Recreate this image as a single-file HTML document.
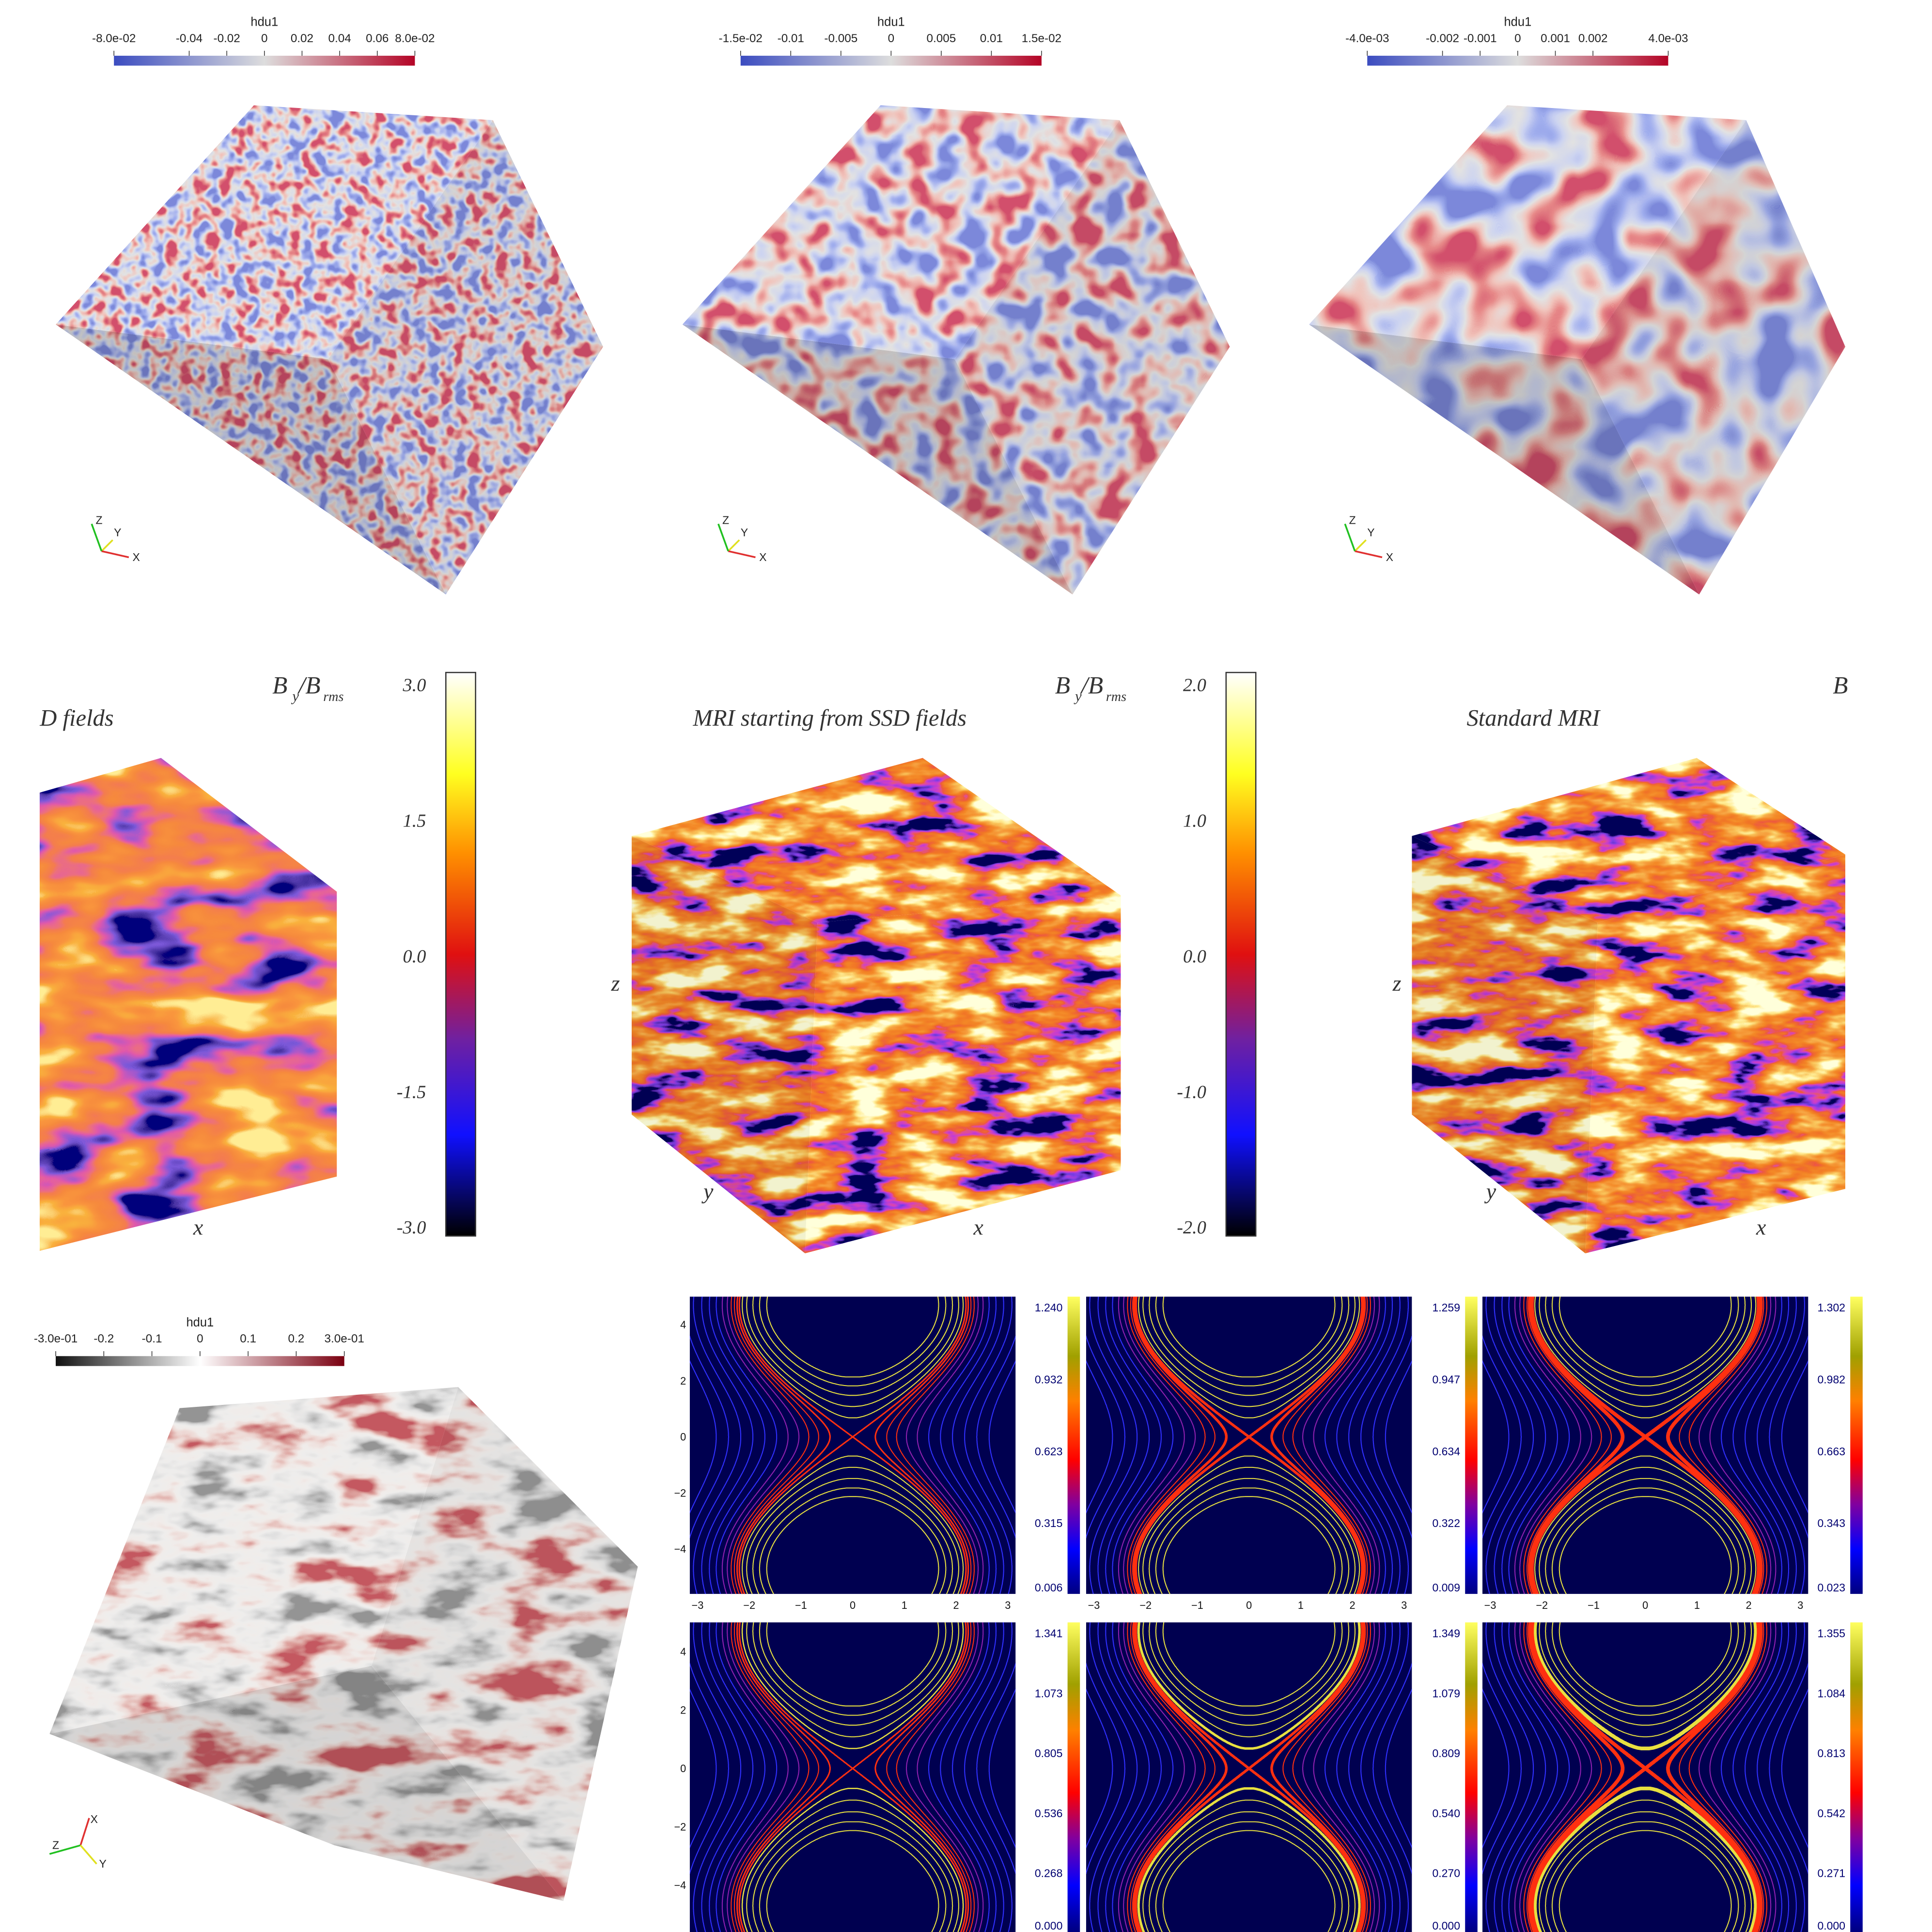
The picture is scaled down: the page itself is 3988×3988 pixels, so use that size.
<!DOCTYPE html>
<html><head><meta charset="utf-8"><style>
html,body{margin:0;padding:0;background:#fff}
svg{display:block}
text{font-family:"Liberation Sans",sans-serif}
.serif{font-family:"Liberation Serif",serif;font-style:italic}
</style></head><body>
<svg id="fig" xmlns="http://www.w3.org/2000/svg" width="3988" height="3988" viewBox="0 0 1560 1560">
<defs>
<filter id="f1" x="0" y="0" width="1" height="1"><feTurbulence type="fractalNoise" baseFrequency="0.09" numOctaves="2" seed="3"/><feColorMatrix type="matrix" values="1 0 0 0 0 1 0 0 0 0 1 0 0 0 0 0 0 0 0 1"/><feComponentTransfer><feFuncR type="linear" slope="2.5" intercept="-0.75"/><feFuncG type="linear" slope="2.5" intercept="-0.75"/><feFuncB type="linear" slope="2.5" intercept="-0.75"/></feComponentTransfer><feComponentTransfer><feFuncR type="table" tableValues=".2 .35 .6 .76 .88 .8 .65"/><feFuncG type="table" tableValues=".25 .42 .65 .76 .55 .25 .08"/><feFuncB type="table" tableValues=".7 .85 .88 .76 .5 .25 .15"/></feComponentTransfer></filter>
<filter id="f2" x="0" y="0" width="1" height="1"><feTurbulence type="fractalNoise" baseFrequency="0.045" numOctaves="2" seed="7"/><feColorMatrix type="matrix" values="1 0 0 0 0 1 0 0 0 0 1 0 0 0 0 0 0 0 0 1"/><feComponentTransfer><feFuncR type="linear" slope="2.5" intercept="-0.75"/><feFuncG type="linear" slope="2.5" intercept="-0.75"/><feFuncB type="linear" slope="2.5" intercept="-0.75"/></feComponentTransfer><feComponentTransfer><feFuncR type="table" tableValues=".2 .35 .6 .76 .88 .8 .65"/><feFuncG type="table" tableValues=".25 .42 .65 .76 .55 .25 .08"/><feFuncB type="table" tableValues=".7 .85 .88 .76 .5 .25 .15"/></feComponentTransfer></filter>
<filter id="f3" x="0" y="0" width="1" height="1"><feTurbulence type="fractalNoise" baseFrequency="0.022" numOctaves="2" seed="11"/><feColorMatrix type="matrix" values="1 0 0 0 0 1 0 0 0 0 1 0 0 0 0 0 0 0 0 1"/><feComponentTransfer><feFuncR type="linear" slope="2.7" intercept="-0.85"/><feFuncG type="linear" slope="2.7" intercept="-0.85"/><feFuncB type="linear" slope="2.7" intercept="-0.85"/></feComponentTransfer><feComponentTransfer><feFuncR type="table" tableValues=".2 .35 .6 .76 .88 .8 .65"/><feFuncG type="table" tableValues=".25 .42 .65 .76 .55 .25 .08"/><feFuncB type="table" tableValues=".7 .85 .88 .76 .5 .25 .15"/></feComponentTransfer></filter>
<filter id="fh" x="0" y="0" width="1" height="1"><feTurbulence type="fractalNoise" baseFrequency="0.018 0.05" numOctaves="4" seed="5"/><feColorMatrix type="matrix" values="1 0 0 0 0 1 0 0 0 0 1 0 0 0 0 0 0 0 0 1"/><feComponentTransfer><feFuncR type="linear" slope="2.4" intercept="-0.7"/><feFuncG type="linear" slope="2.4" intercept="-0.7"/><feFuncB type="linear" slope="2.4" intercept="-0.7"/></feComponentTransfer><feComponentTransfer><feFuncR type="table" tableValues="0 .2 .6 .85 .88 .9 .92 .95 1 1"/><feFuncG type="table" tableValues="0 .05 .05 .1 .18 .25 .35 .55 .85 1"/><feFuncB type="table" tableValues=".1 .8 .6 .05 .02 .02 .05 .1 .3 .7"/></feComponentTransfer></filter>
<filter id="fh2" x="0" y="0" width="1" height="1"><feTurbulence type="fractalNoise" baseFrequency="0.012 0.03" numOctaves="3" seed="9"/><feColorMatrix type="matrix" values="1 0 0 0 0 1 0 0 0 0 1 0 0 0 0 0 0 0 0 1"/><feComponentTransfer><feFuncR type="linear" slope="2.2" intercept="-0.6"/><feFuncG type="linear" slope="2.2" intercept="-0.6"/><feFuncB type="linear" slope="2.2" intercept="-0.6"/></feComponentTransfer><feComponentTransfer><feFuncR type="table" tableValues="0 .2 .75 .9 .92 .95 .95 1"/><feFuncG type="table" tableValues="0 .1 .1 .2 .25 .3 .45 .85"/><feFuncB type="table" tableValues=".2 .7 .4 .08 .05 .05 .05 .3"/></feComponentTransfer></filter>
<filter id="fg" x="0" y="0" width="1" height="1"><feTurbulence type="fractalNoise" baseFrequency="0.015 0.035" numOctaves="4" seed="2"/><feColorMatrix type="matrix" values="1 0 0 0 0 1 0 0 0 0 1 0 0 0 0 0 0 0 0 1"/><feComponentTransfer><feFuncR type="linear" slope="2.3" intercept="-0.65"/><feFuncG type="linear" slope="2.3" intercept="-0.65"/><feFuncB type="linear" slope="2.3" intercept="-0.65"/></feComponentTransfer><feComponentTransfer><feFuncR type="table" tableValues=".3 .55 .75 .86 .88 .85 .72 .55"/><feFuncG type="table" tableValues=".3 .55 .75 .85 .84 .68 .35 .1"/><feFuncB type="table" tableValues=".3 .55 .75 .84 .82 .65 .33 .12"/></feComponentTransfer></filter>
<linearGradient id="gbr" x1="0" x2="1"><stop offset="0" stop-color="#3b4cc0"/><stop offset=".5" stop-color="#dddddd"/><stop offset="1" stop-color="#b40426"/></linearGradient>
<linearGradient id="ggr" x1="0" x2="1"><stop offset="0" stop-color="#111"/><stop offset=".5" stop-color="#fff"/><stop offset="1" stop-color="#7a0010"/></linearGradient>
<linearGradient id="ghot" x1="0" x2="0" y1="1" y2="0"><stop offset="0" stop-color="#000"/><stop offset=".18" stop-color="#1010ff"/><stop offset=".35" stop-color="#7020a0"/><stop offset=".5" stop-color="#e01010"/><stop offset=".68" stop-color="#ff9000"/><stop offset=".82" stop-color="#ffff20"/><stop offset="1" stop-color="#fff"/></linearGradient>
<linearGradient id="gct" x1="0" x2="0" y1="1" y2="0"><stop offset="0" stop-color="#000080"/><stop offset=".15" stop-color="#0000ff"/><stop offset=".3" stop-color="#8000a0"/><stop offset=".45" stop-color="#ff0000"/><stop offset=".65" stop-color="#ff8000"/><stop offset=".8" stop-color="#a0a000"/><stop offset="1" stop-color="#ffff60"/></linearGradient>
</defs>
<g id="root"></g>
</svg>
<script>
// ---- data ----
const bar1Ticks = ["-8.0e-02","-0.04","-0.02","0","0.02","0.04","0.06","8.0e-02"];
const bar1Vals = [-0.08,-0.04,-0.02,0,0.02,0.04,0.06,0.08];
const bar2Ticks = ["-1.5e-02","-0.01","-0.005","0","0.005","0.01","1.5e-02"];
const bar2Vals = [-0.015,-0.01,-0.005,0,0.005,0.01,0.015];
const bar3Ticks = ["-4.0e-03","-0.002","-0.001","0","0.001","0.002","4.0e-03"];
const bar3Vals = [-0.004,-0.002,-0.001,0,0.001,0.002,0.004];
const bar4Ticks = ["-3.0e-01","-0.2","-0.1","0","0.1","0.2","3.0e-01"];
const bar4Vals = [-0.3,-0.2,-0.1,0,0.1,0.2,0.3];
const hotTicksA = ["3.0","1.5","0.0","-1.5","-3.0"];
const hotTicksB = ["2.0","1.0","0.0","-1.0","-2.0"];
const ctXTicks = [-3,-2,-1,0,1,2,3];
const ctYTicks = [4,2,0,-2,-4];
const ctBars = [["1.240","0.932","0.623","0.315","0.006"],["1.259","0.947","0.634","0.322","0.009"],["1.302","0.982","0.663","0.343","0.023"],
 ["1.341","1.073","0.805","0.536","0.268","0.000"],["1.349","1.079","0.809","0.540","0.270","0.000"],["1.355","1.084","0.813","0.542","0.271","0.000"]];
const ctAmp = [1.0,1.0,1.0,1.0,1.0,1.0];
const ctLevels = [0.15,0.35,0.55,0.75,0.9,1.0,1.08,1.18,1.3,1.45,1.65,1.9,2.2,2.55,2.95,3.4,3.9];

const NS="http://www.w3.org/2000/svg";
const root=document.getElementById('root');
function el(tag,attrs,parent){const e=document.createElementNS(NS,tag);for(const k in attrs)e.setAttribute(k,attrs[k]);(parent||root).appendChild(e);return e;}
function txt(x,y,s,size,anchor,cls,parent,fill){const t=el('text',{x:x,y:y,'font-size':size,'text-anchor':anchor||'middle',fill:fill||'#222'},parent);if(cls)t.setAttribute('class',cls);t.textContent=s;return t;}
let cid=0;
function face(pts,filter,shade,parent){
  cid++;const cp=el('clipPath',{id:'c'+cid},parent);el('polygon',{points:pts.map(p=>p.join(',')).join(' ')},cp);
  const xs=pts.map(p=>p[0]),ys=pts.map(p=>p[1]);const x0=Math.min(...xs),y0=Math.min(...ys);
  const g=el('g',{'clip-path':'url(#c'+cid+')'},parent);
  el('rect',{x:x0,y:y0,width:Math.max(...xs)-x0,height:Math.max(...ys)-y0,filter:'url(#'+filter+')'},g);
  if(shade)el('polygon',{points:pts.map(p=>p.join(',')).join(' '),fill:shade<0?'#fff':'#000',opacity:Math.abs(shade)},g);
  return g;
}
function hbar(x,y,w,grad,ticks,vals,name){
  const g=el('g',{});
  txt(x+w/2,y-24,'hdu1',10,'middle',null,g);
  el('rect',{x:x,y:y,width:w,height:8,fill:'url(#'+grad+')'},g);
  const mn=vals[0],mx=vals[vals.length-1];
  vals.forEach((v,i)=>{const px=x+(v-mn)/(mx-mn)*w;el('line',{x1:px,x2:px,y1:y-4,y2:y,stroke:'#333','stroke-width':0.6},g);txt(px,y-11,ticks[i],9.5,'middle',null,g);});
}
function axes(x,y,g){
  el('line',{x1:x,y1:y,x2:x+9,y2:y-9,stroke:'#e0e020','stroke-width':1.4},g);
  el('line',{x1:x,y1:y,x2:x+22,y2:y+5,stroke:'#e03030','stroke-width':1.4},g);
  el('line',{x1:x,y1:y,x2:x-8,y2:y-22,stroke:'#20c020','stroke-width':1.4},g);
  txt(x+28,y+8,'X',9,'middle',null,g);txt(x+13,y-12,'Y',9,'middle',null,g);txt(x-2,y-22,'Z',9,'middle',null,g);
}
// ---- row 1 ----
const cubeOff=[0,506,1012], fids=['f1','f2','f3'];
const barsR1=[[bar1Ticks,bar1Vals],[bar2Ticks,bar2Vals],[bar3Ticks,bar3Vals]];
cubeOff.forEach((o,i)=>{
  hbar(92+o,45,243,'gbr',barsR1[i][0],barsR1[i][1],'colorbar-top-'+(i+1));
  const g=el('g',{});
  const A=[45+o,262],B=[205+o,85],C=[398+o,97],D=[Math.min(487+o,1490),280],E=[360+o,480],G=[265+o,290];
  face([A,B,C,G],fids[i],0,g);face([G,C,D,E],fids[i],0.06,g);face([A,G,E],fids[i],0.14,g);
  const ag=el('g',{});axes(82+o,445,ag);
});
// ---- row 2 ----
(function(){
  const g=el('g',{});
  face([[32,640],[130,612],[272,720],[272,950],[32,1010]],'fh2',0,g);
  face([[510,675],[745,612],[905,723],[660,745]],'fh',0,g);
  face([[660,745],[905,723],[905,945],[650,1012]],'fh',0,g);
  face([[510,675],[660,745],[650,1012],[510,900]],'fh',0.05,g);
  face([[1140,675],[1370,612],[1490,690],[1290,745]],'fh',0,g);
  face([[1290,745],[1490,690],[1490,960],[1280,1012]],'fh',0,g);
  face([[1140,675],[1290,745],[1280,1012],[1140,900]],'fh',0.05,g);
  const ts=[[62,586,'D fields'],[670,586,'MRI starting from SSD fields'],[1238,586,'Standard MRI']];
  ts.forEach((t,i)=>{const e=txt(t[0],t[1],t[2],19,'middle','serif',g,'#333');});
  txt(226,560,'B',20,'middle','serif',g,'#333');txt(236,566,'y',12,'start','serif',g,'#333');txt(241,560,'/B',20,'start','serif',g,'#333');txt(261,566,'rms',11,'start','serif',g,'#333');
  txt(858,560,'B',20,'middle','serif',g,'#333');txt(868,566,'y',12,'start','serif',g,'#333');txt(873,560,'/B',20,'start','serif',g,'#333');txt(893,566,'rms',11,'start','serif',g,'#333');
  txt(1486,560,'B',20,'middle','serif',g,'#333');
  [[160,997,'x'],[497,800,'z'],[572,968,'y'],[790,997,'x'],[1128,800,'z'],[1204,968,'y'],[1422,997,'x']].forEach(a=>txt(a[0],a[1],a[2],18,'middle','serif',g,'#333'));
  [[360,hotTicksA,'hot-colorbar-1'],[990,hotTicksB,'hot-colorbar-2']].forEach(b=>{
    const cg=el('g',{},g);
    el('rect',{x:b[0],y:543,width:24,height:455,fill:'url(#ghot)',stroke:'#333','stroke-width':1},cg);
    b[1].forEach((t,i)=>txt(b[0]-16,558+i*109.5,t,15,'end','serif',cg,'#333'));
  });
})();
// ---- bottom-left cube ----
(function(){
  hbar(45,1095,233,'ggr',bar4Ticks,bar4Vals,'colorbar-bottom-left');
  const g=el('g',{});
  face([[145,1137],[370,1120],[300,1345],[40,1400]],'fg',0,g);
  face([[370,1120],[515,1265],[455,1535],[300,1345]],'fg',0.04,g);
  face([[40,1400],[300,1345],[455,1535],[270,1490]],'fg',0.1,g);
  const ag=el('g',{});
  el('line',{x1:65,y1:1490,x2:72,y2:1468,stroke:'#e03030','stroke-width':1.4},ag);
  el('line',{x1:65,y1:1490,x2:40,y2:1497,stroke:'#20c020','stroke-width':1.4},ag);
  el('line',{x1:65,y1:1490,x2:78,y2:1505,stroke:'#e0e020','stroke-width':1.4},ag);
  txt(76,1472,'X',9,'middle',null,ag);txt(45,1493,'Z',9,'middle',null,ag);txt(83,1508,'Y',9,'middle',null,ag);
})();
// ---- contour panels ----
const pxs=[557,877,1197], prow=[[1047,240],[1310,250]];
for(let r=0;r<2;r++)for(let c=0;c<3;c++){
  const k=r*3+c, x0=pxs[c], y0=prow[r][0], h=prow[r][1], w=263;
  const g=el('g',{});
  cid++;const cp=el('clipPath',{id:'c'+cid},g);el('rect',{x:x0,y:y0,width:w,height:h},cp);
  el('rect',{x:x0,y:y0,width:w,height:h,fill:'#000050'},g);
  const cg=el('g',{'clip-path':'url(#c'+cid+')'},g);
  const xs=v=>x0+(v+3.15)/6.3*w, ys=v=>y0+(5.0-v)/10.6*h;
  const A=ctAmp[k];
  ctLevels.forEach((lv)=>{
    const col= lv<A*0.97?'#e8e040':(lv<A*1.35?'#ff3010':(lv<A*1.7?'#9020b0':'#3030ff'));
    const sw=(lv>=A*0.97&&lv<A*1.1)?(1.2+c*0.9):(lv<A&&lv>0.85&&r===1?1+c:0.8);
    const segs=[];let cur=null;
    for(let i=0;i<=900;i++){const yv=-5.7+i*10.9/900;const q=lv-A*Math.cos(Math.PI*yv/4.7);
      if(q>=0){if(!cur){cur=[];segs.push(cur);}cur.push([Math.sqrt(q)*1.55,yv]);}else cur=null;}
    const paths=[];
    if(lv<A){
      segs.forEach(sg=>{const pts=sg.concat(sg.slice().reverse().map(p=>[-p[0],p[1]]));paths.push(pts.map((p,j)=>(j?'L':'M')+xs(p[0]).toFixed(1)+','+ys(p[1]).toFixed(1)).join('')+'Z');});
    } else {
      segs.forEach(sg=>{[1,-1].forEach(s=>paths.push(sg.map((p,j)=>(j?'L':'M')+xs(s*p[0]).toFixed(1)+','+ys(p[1]).toFixed(1)).join('')));});
    }
    paths.forEach(d=>{
      const p=el('path',{d:d,fill:'none',stroke:col,'stroke-width':sw},cg);
      
    });
  });
  if(r===0) ctXTicks.forEach(t=>txt(xs(t),y0+h+12,String(t).replace('-','−'),8.5,'middle',null,g,'#111'));
  ctYTicks.forEach(t=>{ if(c===0) txt(x0-3,ys(t)+3,String(t).replace('-','−'),8.5,'end',null,g,'#111');});
  const bx=[862,1183,1494][c];
  const bg=el('g',{});
  el('rect',{x:bx,y:y0,width:10,height:h,fill:'url(#gct)'},bg);
  const tl=ctBars[k];tl.forEach((t,i)=>txt(bx-4,y0+12+i*(h-8)/(tl.length-1)+(i===tl.length-1?-6:0),t,9,'end',null,bg,'#000070'));
}
</script>
</body></html>
